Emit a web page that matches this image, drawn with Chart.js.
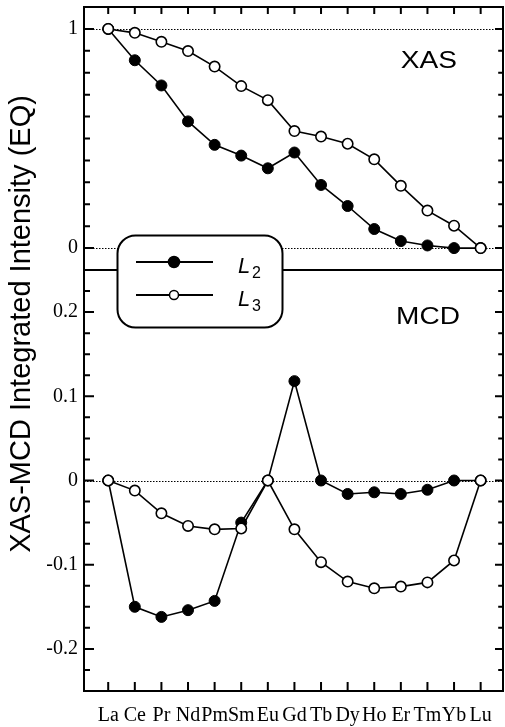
<!DOCTYPE html>
<html>
<head>
<meta charset="utf-8">
<script src="https://cdn.jsdelivr.net/npm/chart.js@4"></script>
<style>
html, body { margin: 0; padding: 0; background: #fff; }
</style>
</head>
<body>
<canvas id="myChart" width="505" height="727"></canvas>
<script>
// rare earth series, La .. Lu
var elements = ["La", "Ce", "Pr", "Nd", "Pm", "Sm", "Eu", "Gd", "Tb", "Dy", "Ho", "Er", "Tm", "Yb", "Lu"];

// XAS integrated intensity (top panel)
var xasL2 = [1.0, 0.857, 0.742, 0.578, 0.471, 0.422, 0.364, 0.436, 0.288, 0.192, 0.087, 0.032, 0.012, 0.0, 0.0];
var xasL3 = [1.0, 0.982, 0.941, 0.899, 0.828, 0.739, 0.675, 0.534, 0.509, 0.476, 0.405, 0.284, 0.171, 0.102, 0.0];

// MCD integrated intensity (bottom panel)
var mcdL2 = [0.0, -0.150, -0.162, -0.154, -0.143, -0.050, 0.0, 0.118, 0.0, -0.016, -0.014, -0.016, -0.011, 0.0, 0.0];
var mcdL3 = [0.0, -0.012, -0.039, -0.054, -0.058, -0.057, 0.0, -0.058, -0.097, -0.120, -0.128, -0.126, -0.121, -0.095, 0.0];

var xasTicks = [0, 1];
var mcdTicks = [-0.2, -0.1, 0, 0.1, 0.2];

function pts(arr) {
    return arr.map(function (v, i) { return { x: i, y: v }; });
}

var filledStyle = {
    borderColor: "#000",
    borderWidth: 1.6,
    pointRadius: 5.5,
    pointBackgroundColor: "#000",
    pointBorderColor: "#000",
    pointBorderWidth: 1,
    tension: 0,
    order: 2
};
var openStyle = {
    borderColor: "#000",
    borderWidth: 1.6,
    pointRadius: 5.2,
    pointBackgroundColor: "#fff",
    pointBorderColor: "#000",
    pointBorderWidth: 1.6,
    tension: 0,
    order: 1
};

// fixed axis boxes, no extra room for edge labels
function fixBox(w, h) {
    return function (s) {
        if (w) s.width = w;
        if (h) s.height = h;
        s.paddingTop = 0; s.paddingBottom = 0;
        s.paddingLeft = 0; s.paddingRight = 0;
    };
}

// frame, inward ticks, dotted zero lines, labels and the legend box
var decorations = {
    id: "decorations",
    beforeDatasetsDraw: function (chart) {
        var ctx = chart.ctx, ca = chart.chartArea;
        var yA = chart.scales.yA, yB = chart.scales.yB;
        ctx.save();
        ctx.strokeStyle = "#000";
        ctx.lineWidth = 1;
        ctx.setLineDash([1.5, 1.5]);
        [yA.getPixelForValue(1), yA.getPixelForValue(0), yB.getPixelForValue(0)].forEach(function (y) {
            ctx.beginPath();
            ctx.moveTo(ca.left, Math.round(y) + 0.5);
            ctx.lineTo(ca.right, Math.round(y) + 0.5);
            ctx.stroke();
        });
        ctx.restore();
    },
    afterDatasetsDraw: function (chart) {
        var ctx = chart.ctx, ca = chart.chartArea;
        var x = chart.scales.x, yA = chart.scales.yA, yB = chart.scales.yB;
        ctx.save();
        ctx.strokeStyle = "#000";
        ctx.lineWidth = 2;

        // frame and panel divider
        ctx.strokeRect(ca.left, ca.top, ca.right - ca.left, ca.bottom - ca.top);
        ctx.beginPath();
        ctx.moveTo(ca.left, yA.bottom);
        ctx.lineTo(ca.right, yA.bottom);
        ctx.stroke();

        function hTick(y, len) {
            ctx.beginPath();
            ctx.moveTo(ca.left, y); ctx.lineTo(ca.left + len, y);
            ctx.moveTo(ca.right, y); ctx.lineTo(ca.right - len * 0.8, y);
            ctx.stroke();
        }
        // x ticks, top and bottom
        elements.forEach(function (e, i) {
            var px = x.getPixelForValue(i);
            ctx.beginPath();
            ctx.moveTo(px, ca.top); ctx.lineTo(px, ca.top + 7);
            ctx.moveTo(px, ca.bottom); ctx.lineTo(px, ca.bottom - 9);
            ctx.stroke();
        });
        // top panel: minor every 0.1
        for (var k = 0; k <= 10; k++) {
            var v = k / 10;
            hTick(yA.getPixelForValue(v), (k === 0 || k === 10) ? 10 : 6);
        }
        // bottom panel: minor every 0.025, major every 0.1
        for (var m = -9; m <= 9; m++) {
            var w = m * 0.025;
            hTick(yB.getPixelForValue(w), (m % 4 === 0) ? 10 : 6);
        }

        // panel labels
        ctx.fillStyle = "#000";
        ctx.font = "23px 'Liberation Sans', Arial, sans-serif";
        ctx.textAlign = "right";
        ctx.textBaseline = "alphabetic";
        ctx.save();
        ctx.translate(457, 68);
        ctx.scale(1.22, 1);
        ctx.fillText("XAS", 0, 0);
        ctx.restore();
        ctx.save();
        ctx.translate(460, 324);
        ctx.scale(1.22, 1);
        ctx.fillText("MCD", 0, 0);
        ctx.restore();

        // y axis title spanning both panels
        ctx.save();
        ctx.font = "29px 'Liberation Sans', Arial, sans-serif";
        ctx.textAlign = "center";
        ctx.translate(30, 324);
        ctx.rotate(-Math.PI / 2);
        ctx.fillText("XAS-MCD Integrated Intensity (EQ)", 0, 0);
        ctx.restore();

        ctx.restore();
    },
    afterDraw: function (chart) {
        var ctx = chart.ctx;
        ctx.save();
        ctx.strokeStyle = "#000";
        ctx.fillStyle = "#fff";
        ctx.lineWidth = 2;
        ctx.beginPath();
        ctx.roundRect(117.5, 235.5, 165, 92, 18);
        ctx.fill();
        ctx.stroke();

        var rows = [
            { y: 262, fill: "#000", r: 5.5, sub: "2" },
            { y: 295, fill: "#fff", r: 4.5, sub: "3" }
        ];
        rows.forEach(function (row) {
            ctx.lineWidth = 2;
            ctx.beginPath();
            ctx.moveTo(136, row.y); ctx.lineTo(213, row.y);
            ctx.stroke();
            ctx.beginPath();
            ctx.arc(174, row.y, row.r, 0, Math.PI * 2);
            ctx.fillStyle = row.fill;
            ctx.fill();
            ctx.lineWidth = 1.5;
            ctx.stroke();
            ctx.fillStyle = "#000";
            ctx.textAlign = "left";
            ctx.textBaseline = "alphabetic";
            ctx.font = "italic 22px 'Liberation Sans', Arial, sans-serif";
            ctx.fillText("L", 238, row.y + 11);
            ctx.font = "16px 'Liberation Sans', Arial, sans-serif";
            ctx.fillText(row.sub, 252, row.y + 16);
        });
        ctx.restore();
    }
};

var ctx = document.getElementById("myChart").getContext("2d");

var myChart = new Chart(ctx, {
    type: "line",
    data: {
        datasets: [
            Object.assign({ label: "L2", yAxisID: "yA", data: pts(xasL2) }, filledStyle),
            Object.assign({ label: "L3", yAxisID: "yA", data: pts(xasL3) }, openStyle),
            Object.assign({ label: "L2", yAxisID: "yB", data: pts(mcdL2) }, filledStyle),
            Object.assign({ label: "L3", yAxisID: "yB", data: pts(mcdL3) }, openStyle)
        ]
    },
    options: {
        responsive: false,
        animation: false,
        devicePixelRatio: 1,
        layout: { autoPadding: false, padding: { top: 7, right: 2, left: 0, bottom: 0 } },
        plugins: {
            legend: { display: false },
            tooltip: { enabled: false }
        },
        elements: { line: { fill: false } },
        scales: {
            x: {
                type: "linear",
                position: "bottom",
                min: -0.91,
                max: 14.84,
                grid: { display: false, drawTicks: false },
                border: { display: false },
                afterBuildTicks: function (s) {
                    s.ticks = elements.map(function (e, i) { return { value: i }; });
                },
                afterFit: fixBox(0, 36),
                ticks: {
                    autoSkip: false,
                    maxRotation: 0,
                    padding: 13,
                    color: "#000",
                    font: { family: "'Liberation Serif', 'Times New Roman', serif", size: 20 },
                    callback: function (v) { return elements[v]; }
                }
            },
            // bottom panel listed first: stacked left axes are laid out last-defined on top
            yB: {
                type: "linear",
                position: "left",
                stack: "panels",
                stackWeight: 421,
                min: -0.25,
                max: 0.25,
                grid: { display: false, drawTicks: false },
                border: { display: false },
                afterBuildTicks: function (s) {
                    s.ticks = mcdTicks.map(function (v) { return { value: v }; });
                },
                afterFit: fixBox(84, 0),
                ticks: {
                    padding: 6,
                    color: "#000",
                    font: { family: "'Liberation Serif', 'Times New Roman', serif", size: 20 },
                    callback: function (v) { return String(v); }
                }
            },
            yA: {
                type: "linear",
                position: "left",
                stack: "panels",
                stackWeight: 263,
                min: -0.1,
                max: 1.1,
                grid: { display: false, drawTicks: false },
                border: { display: false },
                afterBuildTicks: function (s) {
                    s.ticks = xasTicks.map(function (v) { return { value: v }; });
                },
                afterFit: fixBox(84, 0),
                ticks: {
                    padding: 6,
                    color: "#000",
                    font: { family: "'Liberation Serif', 'Times New Roman', serif", size: 20 },
                    callback: function (v) { return String(v); }
                }
            }
        }
    },
    plugins: [decorations]
});
</script>
</body>
</html>
